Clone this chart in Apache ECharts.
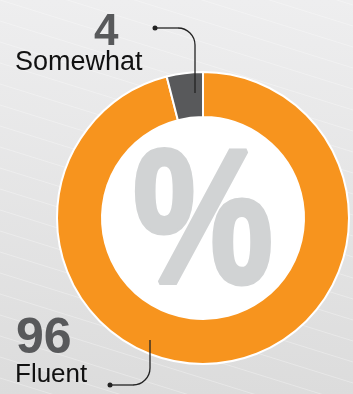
<!DOCTYPE html>
<html><head><meta charset="utf-8">
<script src="https://cdn.jsdelivr.net/npm/echarts@6/dist/echarts.min.js"></script>
<style>html,body{margin:0;padding:0;}#c{width:353px;height:394px;}</style>
</head><body><div id="c"></div>
<script>
const categories = ['Fluent', 'Somewhat'];
const values = [96, 4];
const colors = ['#F7941E', '#58595B'];

const chart = echarts.init(document.getElementById('c'), null, {renderer: 'canvas'});

const stripes = [];
for (let i = -12; i < 30; i++) {
  const y0 = i * 21;
  stripes.push({type: 'line', z: -9, silent: true,
    shape: {x1: 0, y1: y0, x2: 353, y2: y0 + 110},
    style: {stroke: 'rgba(255,255,255,0.3)', lineWidth: 1}});
}

const font = '"Liberation Sans", Arial, sans-serif';
const lineStyle = {stroke: '#222', lineWidth: 1.3, fill: null};
chart.setOption({
  animation: false,
  graphic: [
    {type: 'rect', z: -10, silent: true, shape: {x: 0, y: 0, width: 353, height: 394},
     style: {fill: new echarts.graphic.LinearGradient(0, 0, 0, 1, [
       {offset: 0, color: '#eeeeef'}, {offset: 1, color: '#dcdcdc'}])}},
    ...stripes,
    {type: 'text', z: 100, x: 203, y: 230, scaleX: 0.82,
     style: {text: '%', font: 'bold 192px ' + font, fill: '#D1D3D4', stroke: '#D1D3D4', lineWidth: 5,
             align: 'center', verticalAlign: 'middle'}},
    {type: 'text', z: 100, x: 94, y: 33,
     style: {text: String(values[1]), font: 'bold 44px ' + font, fill: '#58595B', align: 'left', verticalAlign: 'middle'}},
    {type: 'text', z: 100, x: 15, y: 63,
     style: {text: categories[1], font: '27px ' + font, fill: '#111', align: 'left', verticalAlign: 'middle'}},
    {type: 'text', z: 100, x: 16, y: 339,
     style: {text: String(values[0]), font: 'bold 50px ' + font, fill: '#58595B', align: 'left', verticalAlign: 'middle'}},
    {type: 'text', z: 100, x: 15, y: 375,
     style: {text: categories[0], font: '26px ' + font, fill: '#111', align: 'left', verticalAlign: 'middle'}},
    {type: 'line', z: 100, shape: {x1: 155, y1: 28, x2: 178, y2: 28}, style: lineStyle},
    {type: 'arc', z: 100, shape: {cx: 178, cy: 45, r: 17, startAngle: -Math.PI / 2, endAngle: 0, clockwise: true}, style: lineStyle},
    {type: 'line', z: 100, shape: {x1: 195, y1: 45, x2: 195, y2: 93}, style: lineStyle},
    {type: 'circle', z: 100, shape: {cx: 155, cy: 28, r: 2.5}, style: {fill: '#222'}},
    {type: 'line', z: 100, shape: {x1: 110, y1: 385, x2: 133, y2: 385}, style: lineStyle},
    {type: 'arc', z: 100, shape: {cx: 133, cy: 368, r: 17, startAngle: 0, endAngle: Math.PI / 2, clockwise: true}, style: lineStyle},
    {type: 'line', z: 100, shape: {x1: 150, y1: 368, x2: 150, y2: 340}, style: lineStyle},
    {type: 'circle', z: 100, shape: {cx: 110, cy: 385, r: 2.5}, style: {fill: '#222'}}
  ],
  series: [
    {type: 'pie', silent: true, center: [203, 218], radius: [0, 101], z: 1,
     label: {show: false}, labelLine: {show: false},
     data: [{value: 1, itemStyle: {color: '#ffffff'}}]},
    {type: 'pie', silent: true, center: [203, 218], radius: [101, 146], startAngle: 90, clockwise: true, z: 2,
     label: {show: false}, labelLine: {show: false},
     itemStyle: {borderColor: '#ffffff', borderWidth: 2},
     data: categories.map((c, i) => ({name: c, value: values[i], itemStyle: {color: colors[i]}}))}
  ]
});
</script></body></html>
